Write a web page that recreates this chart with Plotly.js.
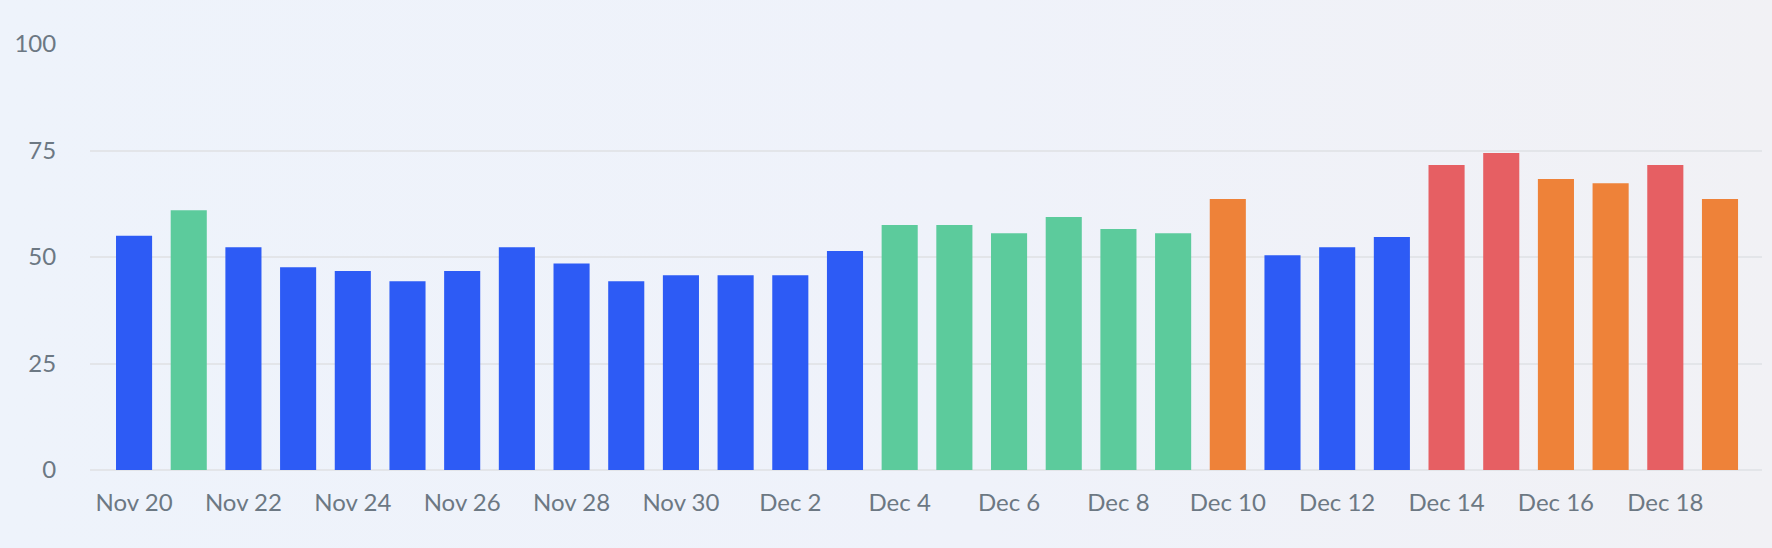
<!DOCTYPE html>
<html>
<head>
<meta charset="utf-8">
<script src="https://cdn.plot.ly/plotly-3.0.1.min.js"></script>
<style>
  html, body { margin: 0; padding: 0; }
  body { width: 1772px; height: 548px; background: linear-gradient(90deg, #eef3fb 0%, #eff2fa 55%, #f1f1f5 100%); }
  #chart { width: 1772px; height: 548px; }
</style>
</head>
<body>
<div id="chart"></div>
<script>
const dates = [
  '2024-11-20','2024-11-21','2024-11-22','2024-11-23','2024-11-24','2024-11-25',
  '2024-11-26','2024-11-27','2024-11-28','2024-11-29','2024-11-30','2024-12-01',
  '2024-12-02','2024-12-03','2024-12-04','2024-12-05','2024-12-06','2024-12-07',
  '2024-12-08','2024-12-09','2024-12-10','2024-12-11','2024-12-12','2024-12-13',
  '2024-12-14','2024-12-15','2024-12-16','2024-12-17','2024-12-18','2024-12-19'
];
const values = [
  55, 61, 52.3, 47.6, 46.7, 44.3,
  46.7, 52.3, 48.5, 44.3, 45.7, 45.7,
  45.7, 51.4, 57.5, 57.5, 55.6, 59.4,
  56.6, 55.6, 63.6, 50.4, 52.3, 54.7,
  71.6, 74.4, 68.3, 67.3, 71.6, 63.6
];
const yTicks = [0, 25, 50, 75, 100];

const palette = { low: '#2d5bf5', mid: '#5ccb9c', high: '#ee8239', peak: '#e65f63' };
const colors = values.map(v => v < 55.3 ? palette.low : v < 62 ? palette.mid : v < 70 ? palette.high : palette.peak);

const trace = {
  type: 'bar',
  x: dates,
  y: values,
  marker: { color: colors, line: { width: 0 } },
  hoverinfo: 'x+y'
};

const labelFont = { family: 'Lato, Inter, "DejaVu Sans", sans-serif', size: 24, color: '#6c7883' };

const layout = {
  width: 1772,
  height: 548,
  margin: { l: 90, r: 10, t: 44, b: 78 },
  paper_bgcolor: 'rgba(0,0,0,0)',
  plot_bgcolor: 'rgba(0,0,0,0)',
  bargap: 0.34,
  showlegend: false,
  font: labelFont,
  xaxis: {
    type: 'date',
    range: ['2024-11-19 04:40', '2024-12-19 18:26'],
    tick0: '2024-11-20',
    dtick: 2 * 86400000,
    tickformat: '%b %-d',
    showgrid: false,
    zeroline: false,
    showline: false,
    ticks: 'outside',
    ticklen: 11,
    tickcolor: 'rgba(0,0,0,0)',
    tickfont: labelFont
  },
  yaxis: {
    range: [0, 100],
    tickvals: yTicks,
    ticktext: yTicks.map(String),
    showgrid: true,
    gridcolor: '#e3e5e9',
    gridwidth: 2,
    zeroline: true,
    zerolinecolor: '#e3e5e9',
    zerolinewidth: 2,
    showline: false,
    ticks: 'outside',
    ticklen: 28,
    tickcolor: 'rgba(0,0,0,0)',
    tickfont: labelFont
  }
};

Plotly.newPlot('chart', [trace], layout, { displayModeBar: false, staticPlot: true });
</script>
</body>
</html>
